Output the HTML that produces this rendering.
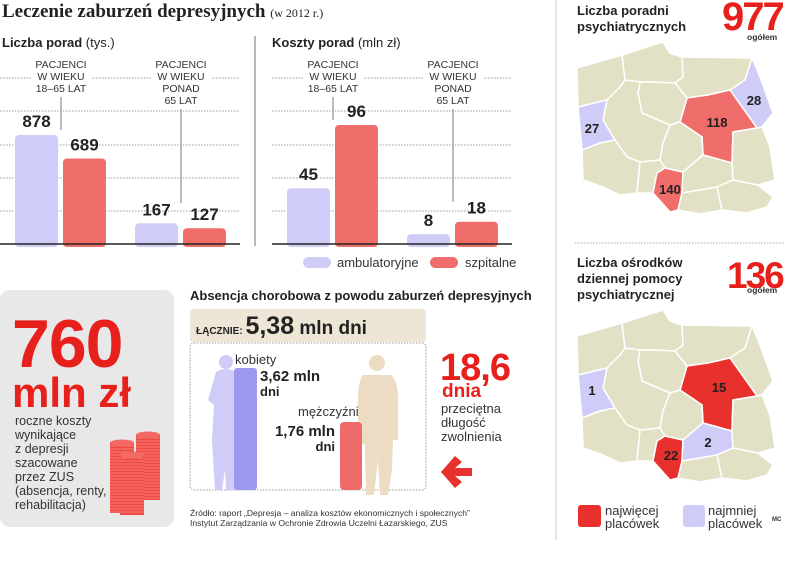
<!DOCTYPE html>
<html><head><meta charset="utf-8">
<style>
html,body{margin:0;padding:0;background:#fff;}
svg{display:block;font-family:"Liberation Sans",sans-serif;}
.b{font-weight:bold;}
</style></head>
<body>
<svg id="s" width="805" height="570" viewBox="0 0 805 570">
<text x="2" y="17" font-family="Liberation Serif,serif" font-weight="bold" font-size="19" fill="#222">Leczenie zaburzeń depresyjnych <tspan font-weight="normal" font-size="12">(w 2012 r.)</tspan></text>
<text x="2" y="47" font-size="13" class="b" fill="#222">Liczba porad <tspan font-weight="normal">(tys.)</tspan></text>
<text x="272" y="47" font-size="13" class="b" fill="#222">Koszty porad <tspan font-weight="normal">(mln zł)</tspan></text>
<line x1="255" y1="36" x2="255" y2="246" stroke="#888" stroke-width="1.2"/>
<line x1="556" y1="0" x2="556" y2="540" stroke="#ccc" stroke-width="1"/>
<g id="charts"></g>
<rect x="303" y="257" width="28" height="11" rx="5.5" fill="#cfcdf7"/>
<text x="337" y="267" font-size="13" fill="#333">ambulatoryjne</text>
<rect x="430" y="257" width="28" height="11" rx="5.5" fill="#ef6d6b"/>
<text x="465" y="267" font-size="13" fill="#333">szpitalne</text>

<g>
<rect x="0" y="290" width="174" height="237" rx="10" fill="#e8e8e8"/>
<text x="12" y="367" font-size="68" class="b" fill="#e8201c" letter-spacing="-1">760</text>
<text x="12" y="407" font-size="42" class="b" fill="#e8201c">mln zł</text>
<g font-size="12.5" fill="#333">
<text x="15" y="425">roczne koszty</text><text x="15" y="439">wynikające</text><text x="15" y="453">z depresji</text><text x="15" y="467">szacowane</text><text x="15" y="481">przez ZUS</text><text x="15" y="495">(absencja, renty,</text><text x="15" y="509">rehabilitacja)</text>
</g>
<g id="coins"></g>
</g>

<text x="190" y="300" font-size="13" class="b" fill="#222">Absencja chorobowa z powodu zaburzeń depresyjnych</text>
<rect x="190" y="309" width="236" height="33" rx="3" fill="#ede5d5"/>
<text x="196" y="334" font-size="10" class="b" fill="#222">ŁĄCZNIE: <tspan font-size="25">5,38</tspan><tspan font-size="19"> mln dni</tspan></text>
<rect x="190" y="343" width="236" height="147" rx="4" fill="none" stroke="#999" stroke-dasharray="1.5,1.5"/>
<g fill="#cfcdf7">
<circle cx="226" cy="362" r="7"/>
<path d="M216 372 Q226 366 236 372 L244 400 L240 420 L242 470 L236 490 L226 490 L225 470 L222 490 L215 490 L212 440 L214 405 L208 400 Z"/>
</g>
<rect x="234" y="368" width="23" height="122" rx="3" fill="#9d98f0"/>
<text x="235" y="364" font-size="13" fill="#333">kobiety</text>
<text x="260" y="381" font-size="15" class="b" fill="#222">3,62 mln</text>
<text x="260" y="396" font-size="13" class="b" fill="#222">dni</text>
<g fill="#ecdcc3">
<circle cx="377" cy="363" r="8"/>
<path d="M363 375 L391 375 Q397 380 398 395 L398 440 L393 440 L392 470 L388 495 L380 495 L378 460 L374 495 L366 495 L365 445 L358 440 L358 395 Q359 380 363 375 Z"/>
</g>
<rect x="340" y="422" width="22" height="68" rx="4" fill="#ee6b69"/>
<text x="298" y="416" font-size="13" fill="#333">mężczyźni</text>
<text x="335" y="436" font-size="15" class="b" fill="#222" text-anchor="end">1,76 mln</text>
<text x="335" y="451" font-size="13" class="b" fill="#222" text-anchor="end">dni</text>
<text x="440" y="380" font-size="38" class="b" fill="#e8201c" letter-spacing="-1">18,6</text>
<text x="442" y="397" font-size="19" class="b" fill="#e8201c">dnia</text>
<g font-size="13" fill="#333">
<text x="441" y="413">przeciętna</text><text x="441" y="427">długość</text><text x="441" y="441">zwolnienia</text>
</g>
<path d="M455 456 L462 462 L455 468 L472 468 L472 476 L455 476 L462 482 L455 488 L441 472 Z" fill="#e8302c"/>
<g font-size="8.6" fill="#333">
<text x="190" y="516">Źródło: raport „Depresja – analiza kosztów ekonomicznych i społecznych”</text>
<text x="190" y="526">Instytut Zarządzania w Ochronie Zdrowia Uczelni Łazarskiego, ZUS</text>
</g>

<text x="577" y="15" font-size="13" class="b" fill="#222">Liczba poradni</text>
<text x="577" y="31" font-size="13" class="b" fill="#222">psychiatrycznych</text>
<text x="722" y="30" font-size="40" class="b" fill="#e8201c" letter-spacing="-2">977</text>
<text x="747" y="40" font-size="8.5" class="b" fill="#333">ogółem</text>
<g id="map1"></g>
<line x1="575" y1="243" x2="785" y2="243" stroke="#aaa" stroke-dasharray="1.5,1.5"/>
<text x="577" y="267" font-size="13" class="b" fill="#222">Liczba ośrodków</text>
<text x="577" y="283" font-size="13" class="b" fill="#222">dziennej pomocy</text>
<text x="577" y="299" font-size="13" class="b" fill="#222">psychiatrycznej</text>
<text x="727" y="288" font-size="37" class="b" fill="#e8201c" letter-spacing="-2">136</text>
<text x="747" y="293" font-size="8.5" class="b" fill="#333">ogółem</text>
<g id="map2"></g>
<rect x="578" y="505" width="23" height="22" rx="3" fill="#e8302c"/>
<text x="605" y="515" font-size="13" fill="#333">najwięcej</text><text x="605" y="528" font-size="13" fill="#333">placówek</text>
<rect x="683" y="505" width="22" height="22" rx="3" fill="#cfcdf7"/>
<text x="708" y="515" font-size="13" fill="#333">najmniej</text><text x="708" y="528" font-size="13" fill="#333">placówek</text>
<text x="772" y="521" font-size="6" class="b" fill="#333">MC</text>
</svg>
<script>
const NS="http://www.w3.org/2000/svg";
const groups=["18-65","ponad 65"];
const poradyAmb=[878,167];
const poradySzp=[689,127];
const kosztyAmb=[45,8];
const kosztySzp=[96,18];
function mk(tag,attrs,parent){const e=document.createElementNS(NS,tag);for(const k in attrs)e.setAttribute(k,attrs[k]);parent.appendChild(e);return e;}
const charts=document.getElementById('charts');
const base=244;
function drawChart(x0,w,amb,szp,yScale,barX,prefix){
  [78,111,145,178,211].forEach(y=>{
    const l=mk('line',{x1:x0,x2:x0+w,y1:y,y2:y,stroke:'#999','stroke-dasharray':'1.5,1.5'},charts);
    
    
  });
  const labelsSets=[["PACJENCI","W WIEKU","18–65 LAT"],["PACJENCI","W WIEKU","PONAD","65 LAT"]];
  groups.forEach((g,i)=>{
    const xa=barX[i], xs=xa+48;
    const cx=xa+46;
    const lines=labelsSets[i];
    mk('rect',{x:cx-30,y:57,width:60,height:lines.length*12+2,fill:'#fff'},charts);
    lines.forEach((t,j)=>{
      const tx=mk('text',{x:cx,y:68+j*12,'font-size':10.5,'text-anchor':'middle',fill:'#333'},charts);
      tx.textContent=t;
      
      
    });
    const topA=base-yScale(amb[i]), topS=base-yScale(szp[i]);
    const ly1=57+lines.length*12+4;
    const ly2=i==0?Math.max(ly1+10,Math.min(topA,topS)-5):base-yScale(Math.max(amb[i],szp[i]))-20;
    const ld=mk('line',{x1:cx,x2:cx,y1:ly1,y2:ly2,stroke:'#777','stroke-width':1},charts);
    
    
    [[xa,amb[i],'#cfcdf7','amb'],[xs,szp[i],'#ef6d6b','szp']].forEach(([x,v,c,n])=>{
      const h=yScale(v);
      const r=mk('rect',{x:x,y:base-h,width:43,height:h+3,rx:4,fill:c},charts);
      
      
      const t=mk('text',{x:x+21.5,y:base-h-8,'font-size':17,'font-weight':'bold','text-anchor':'middle',fill:'#222'},charts);
      t.textContent=v;
      
      
    });
  });
  const bl=mk('line',{x1:x0,x2:x0+w,y1:base,y2:base,stroke:'#222','stroke-width':1.5},charts);
  
  
}
drawChart(0,240,poradyAmb,poradySzp,v=>v*109/878,[15,135],'porady');
drawChart(272,240,kosztyAmb,kosztySzp,v=>v*119/96,[287,407],'koszty');

const coins=document.getElementById('coins');
[[110,443,513],[136,435,500],[120,455,515]].forEach(([x,y1,y2])=>{
  mk('rect',{x:x,y:y1,width:24,height:y2-y1,fill:'#ef4a43'},coins);
  for(let y=y1+3;y<y2;y+=3)mk('line',{x1:x,x2:x+24,y1:y,y2:y,stroke:'#f9b0ab','stroke-width':0.6},coins);
  mk('ellipse',{cx:x+12,cy:y1,rx:12,ry:3.5,fill:'#f26a63'},coins);
});

const regions={
 zach:"577,68 622,55 625,80 620,87 607,100 578,107",
 pom:"622,55 663,42 670,53 682,57 683,77 675,83 653,82 640,82 625,80",
 warm:"682,57 752,58 745,80 730,90 708,95 687,98 675,83 683,77",
 podl:"752,58 760,77 773,113 762,127 757,128 730,90 745,80",
 maz:"730,90 757,128 733,132 732,163 703,155 702,137 680,122 687,98 708,95",
 kuj:"640,82 653,82 675,83 687,98 680,122 670,125 642,113 638,93",
 wiel:"620,87 625,80 640,82 638,93 642,113 670,125 663,143 660,160 640,162 627,157 615,140 603,120 607,100",
 lubu:"578,107 607,100 603,120 615,140 600,143 582,150",
 doln:"582,150 600,143 615,140 627,157 640,162 637,193 620,195 603,187 583,180",
 opol:"640,162 660,160 665,168 657,173 653,193 637,193",
 slas:"665,168 683,172 682,193 678,210 670,212 653,193 657,173",
 lodz:"670,125 680,122 702,137 703,155 683,172 665,168 660,160 663,143",
 swie:"683,172 703,155 732,163 733,180 717,187 682,193",
 malo:"682,193 717,187 722,210 700,214 678,210",
 podk:"717,187 733,180 758,185 773,197 767,207 747,213 722,210",
 lube:"733,132 757,128 762,127 770,147 775,180 758,185 733,180 732,163"
};
const beige='#e2e1c5';
function drawMap(id,dy,colors,labels){
  const g=document.getElementById(id);
  for(const k in regions){
    const pts=regions[k].split(' ').map(p=>{const [a,b]=p.split(',').map(Number);return a+','+(b+dy);}).join(' ');
    const p=mk('polygon',{points:pts,fill:colors[k]||beige,stroke:'#fff','stroke-width':1.5,'stroke-linejoin':'round'},g);
    
    
  }
  labels.forEach(([x,y,t])=>{
    const e=mk('text',{x:x,y:y+dy,'font-size':13,'font-weight':'bold','text-anchor':'middle',fill:'#222'},g);
    e.textContent=t;
    
    
  });
}
drawMap('map1',0,{lubu:'#cfcdf7',podl:'#cfcdf7',maz:'#ef6d6b',slas:'#ef6d6b'},[[592,133,'27'],[754,105,'28'],[717,127,'118'],[670,194,'140']]);
drawMap('map2',268,{lubu:'#cfcdf7',swie:'#cfcdf7',maz:'#e8302c',slas:'#e8302c'},[[592,127,'1'],[719,124,'15'],[708,179,'2'],[671,192,'22']]);
</script>
</body></html>
